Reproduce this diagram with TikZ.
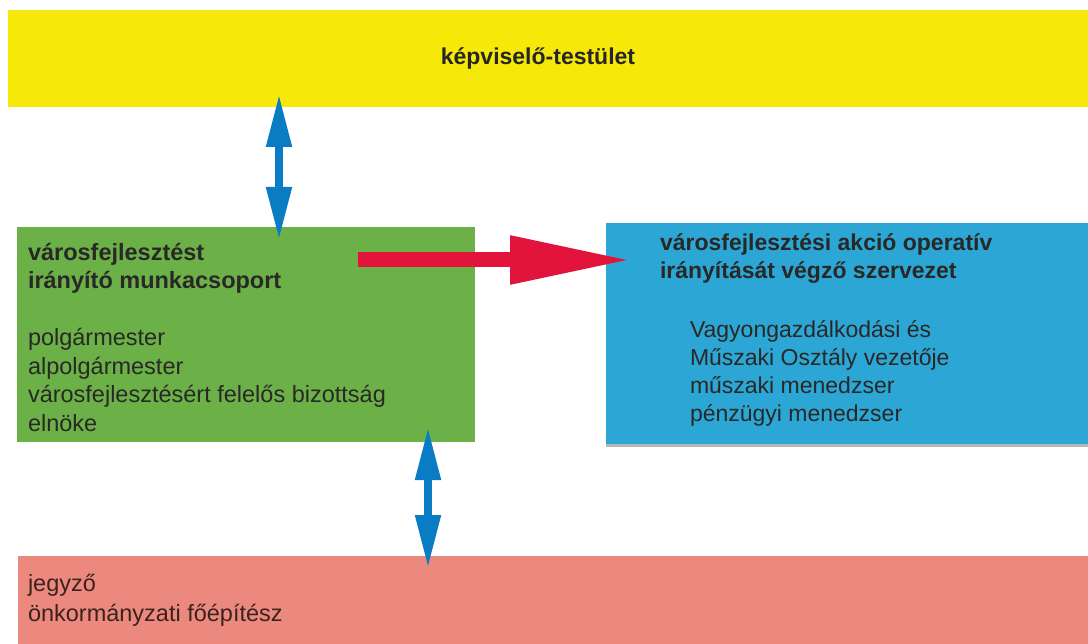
\documentclass[tikz,border=0pt]{standalone}
\usepackage{fontspec}
\setmainfont{Liberation Sans}
\usetikzlibrary{arrows.meta,shadows}
\definecolor{cYellow}{RGB}{246,232,8}
\definecolor{cGreen}{RGB}{108,176,72}
\definecolor{cBlue}{RGB}{44,166,212}
\definecolor{cPink}{RGB}{236,137,126}
\definecolor{cRed}{RGB}{226,20,60}
\definecolor{cArrow}{RGB}{10,124,196}
\definecolor{cText}{RGB}{40,40,38}
\definecolor{cPinkText}{RGB}{60,34,30}
\tikzset{
  band/.style={rectangle, inner sep=0pt, outer sep=0pt, anchor=north west},
  txt/.style={inner sep=0pt, outer sep=0pt, anchor=north west, align=left, text=cText,
    font=\fontsize{23.5}{28.5}\selectfont},
  bluearrow/.style={draw=cArrow, line width=8pt,
    {Triangle[length=53pt,width=24pt]}-{Triangle[length=53pt,width=24pt]}},
  redarrow/.style={draw=cRed, line width=15pt, -{Triangle[length=122pt,width=45pt]}}
}
\begin{document}
\begin{tikzpicture}[x=1pt,y=-1pt]
\useasboundingbox[fill=white] (0,0) rectangle (1088,644);
% boxes
\node[band, fill=cYellow, minimum width=1090pt, minimum height=97pt,
  font=\fontsize{23}{27}\selectfont\bfseries, text=black!85] (yellow) at (8,10)
  {\hspace*{-30pt}képviselő-testület};
\node[band, fill=cGreen, minimum width=458pt, minimum height=215pt] (green) at (17,227) {};
\node[band, fill=cBlue, minimum width=484pt, minimum height=221pt,
  drop shadow={shadow xshift=0pt, shadow yshift=-3pt, fill=black!35, opacity=0.8}] (blue) at (606,223) {};
\node[band, fill=cPink, minimum width=1072pt, minimum height=90pt] (pink) at (18,556) {};
% texts
\node[txt] (greentitle) at ([xshift=11pt,yshift=-16pt]green.north west)
  {\textbf{városfejlesztést}\\\textbf{irányító munkacsoport}\\[28.5pt]
   polgármester\\alpolgármester\\városfejlesztésért felelős bizottság\\elnöke};
\node[txt, font=\fontsize{23}{28}\selectfont] (bluetitle) at ([xshift=54pt,yshift=-11pt]blue.north west)
  {\textbf{városfejlesztési akció operatív}\\\textbf{irányítását végző szervezet}};
\node[txt, font=\fontsize{23}{28}\selectfont] (bluebody) at ([xshift=84pt,yshift=-98pt]blue.north west)
  {Vagyongazdálkodási és\\Műszaki Osztály vezetője\\műszaki menedzser\\pénzügyi menedzser};
\node[txt, text=cPinkText, font=\fontsize{23.5}{30}\selectfont] (pinktext) at ([xshift=10pt,yshift=-18pt]pink.north west)
  {jegyző\\önkormányzati főépítész};
% connectors
\draw[bluearrow] ([yshift=13pt]yellow.south -| 279,0) -- ([yshift=-13pt]green.north -| 279,0);
\draw[bluearrow] ([yshift=15pt]green.south -| 428,0) -- ([yshift=-12pt]pink.north -| 428,0);
\draw[redarrow] ([xshift=-117pt,yshift=-33pt]green.north east) -- ([xshift=26pt,yshift=-37pt]blue.north west);
\end{tikzpicture}
\end{document}
